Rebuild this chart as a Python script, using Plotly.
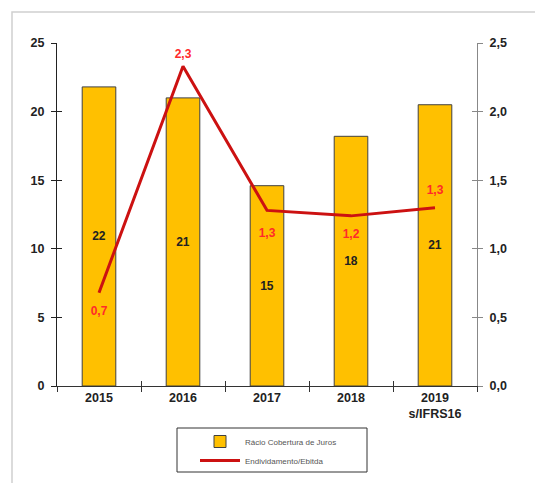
import plotly.graph_objects as go

categories = ["2015", "2016", "2017", "2018", "2019<br>s/IFRS16"]
cobertura = [21.8, 21.0, 14.6, 18.2, 20.5]
endividamento = [0.68, 2.33, 1.28, 1.24, 1.30]
line_text_pos = ["bottom center", "top center", "bottom center", "bottom center", "top center"]

FONT = "Liberation Sans, Arial, sans-serif"
FS = 12.5
OFF = 8  # page body margin
PL, PR, PT, PB = 57, 477, 43, 386  # plot area in screen pixels
W, H = PR - PL, PB - PT


def px(x):
    return (x - PL) / W


def py(y):
    return (PB - y) / H


fig = go.Figure()
fig.add_trace(go.Bar(
    x=categories, y=cobertura, name="Rácio Cobertura de Juros",
    marker=dict(color="#FFC000", line=dict(color="#404040", width=1)),
    width=0.4,
    texttemplate="<b>%{y:.0f}</b>", textposition="inside", insidetextanchor="middle",
    textfont=dict(family=FONT, size=12, color="#222222"),
    yaxis="y",
))
fig.add_trace(go.Scatter(
    x=categories, y=endividamento, name="Endividamento/Ebitda",
    mode="lines+markers+text", line=dict(color="#CC1111", width=3),
    marker=dict(size=[20, 7, 26, 20, 16], color="rgba(0,0,0,0)",
                line=dict(width=0, color="rgba(0,0,0,0)")),
    texttemplate="<b>%{y:.1f}</b>", textposition=line_text_pos,
    textfont=dict(family=FONT, size=12, color="#FF2A2A"),
    yaxis="y2", cliponaxis=False,
))
# inner half of the crossing tick marks
fig.add_trace(go.Scatter(x=[], y=[], xaxis="x2", yaxis="y3", showlegend=False, hoverinfo="skip"))
fig.add_trace(go.Scatter(x=[], y=[], xaxis="x2", yaxis="y4", showlegend=False, hoverinfo="skip"))

tick_common = dict(showgrid=False, zeroline=False, automargin=False)

fig.update_layout(
    width=543, height=483,
    margin=dict(l=PL - OFF, r=543 - (PR - OFF), t=PT - OFF, b=483 - (PB - OFF), autoexpand=False),
    paper_bgcolor="white", plot_bgcolor="white",
    separators=",.",
    font=dict(family=FONT, size=FS, color="#222222"),
    showlegend=True,
    legend=dict(
        x=px(195), y=py(427), xanchor="left", yanchor="top",
        bgcolor="rgba(0,0,0,0)", borderwidth=0,
        font=dict(family=FONT, size=8, color="#555555"),
        itemwidth=40, tracegroupgap=4,
    ),
    xaxis=dict(
        type="category", showline=True, linecolor="#333333", linewidth=1,
        ticks="outside", tickson="boundaries", ticklen=5, tickcolor="#333333",
        tickfont=dict(family=FONT, size=FS, color="#222222", weight="bold"),
        **tick_common,
    ),
    xaxis2=dict(
        overlaying="x", range=[-0.5, 4.5], tickvals=[0.5, 1.5, 2.5, 3.5],
        ticks="inside", ticklen=5, tickcolor="#333333", showticklabels=False,
        showline=False, side="bottom", anchor="y", **tick_common,
    ),
    yaxis=dict(
        range=[0, 25], dtick=5, showline=True, linecolor="#222222", linewidth=1,
        ticks="outside", ticklen=5, tickcolor="#222222",
        tickfont=dict(family=FONT, size=FS, color="#222222", weight="bold"),
        ticklabelstandoff=4, **tick_common,
    ),
    yaxis2=dict(
        range=[0, 2.5], dtick=0.5, tickformat=".1f", overlaying="y", side="right",
        showline=True, linecolor="#888888", linewidth=1,
        ticks="outside", ticklen=5, tickcolor="#888888",
        tickfont=dict(family=FONT, size=FS, color="#222222", weight="bold"),
        ticklabelstandoff=4, **tick_common,
    ),
    yaxis3=dict(
        range=[0, 25], dtick=5, overlaying="y", side="left", anchor="x",
        ticks="inside", ticklen=5, tickcolor="#222222", showticklabels=False,
        showline=False, **tick_common,
    ),
    yaxis4=dict(
        range=[0, 2.5], dtick=0.5, overlaying="y", side="right", anchor="x",
        ticks="inside", ticklen=5, tickcolor="#888888", showticklabels=False,
        showline=False, **tick_common,
    ),
    shapes=[
        dict(type="rect", xref="paper", yref="paper",
             x0=px(12), x1=2.0, y0=-2.0, y1=py(12),
             line=dict(color="#D0D0D0", width=1.5), fillcolor="rgba(0,0,0,0)", layer="below"),
        dict(type="rect", xref="paper", yref="paper",
             x0=px(177), x1=px(367), y0=py(472), y1=py(428),
             line=dict(color="#333333", width=1), fillcolor="rgba(0,0,0,0)"),
    ],
)

fig.write_html("out.html")
